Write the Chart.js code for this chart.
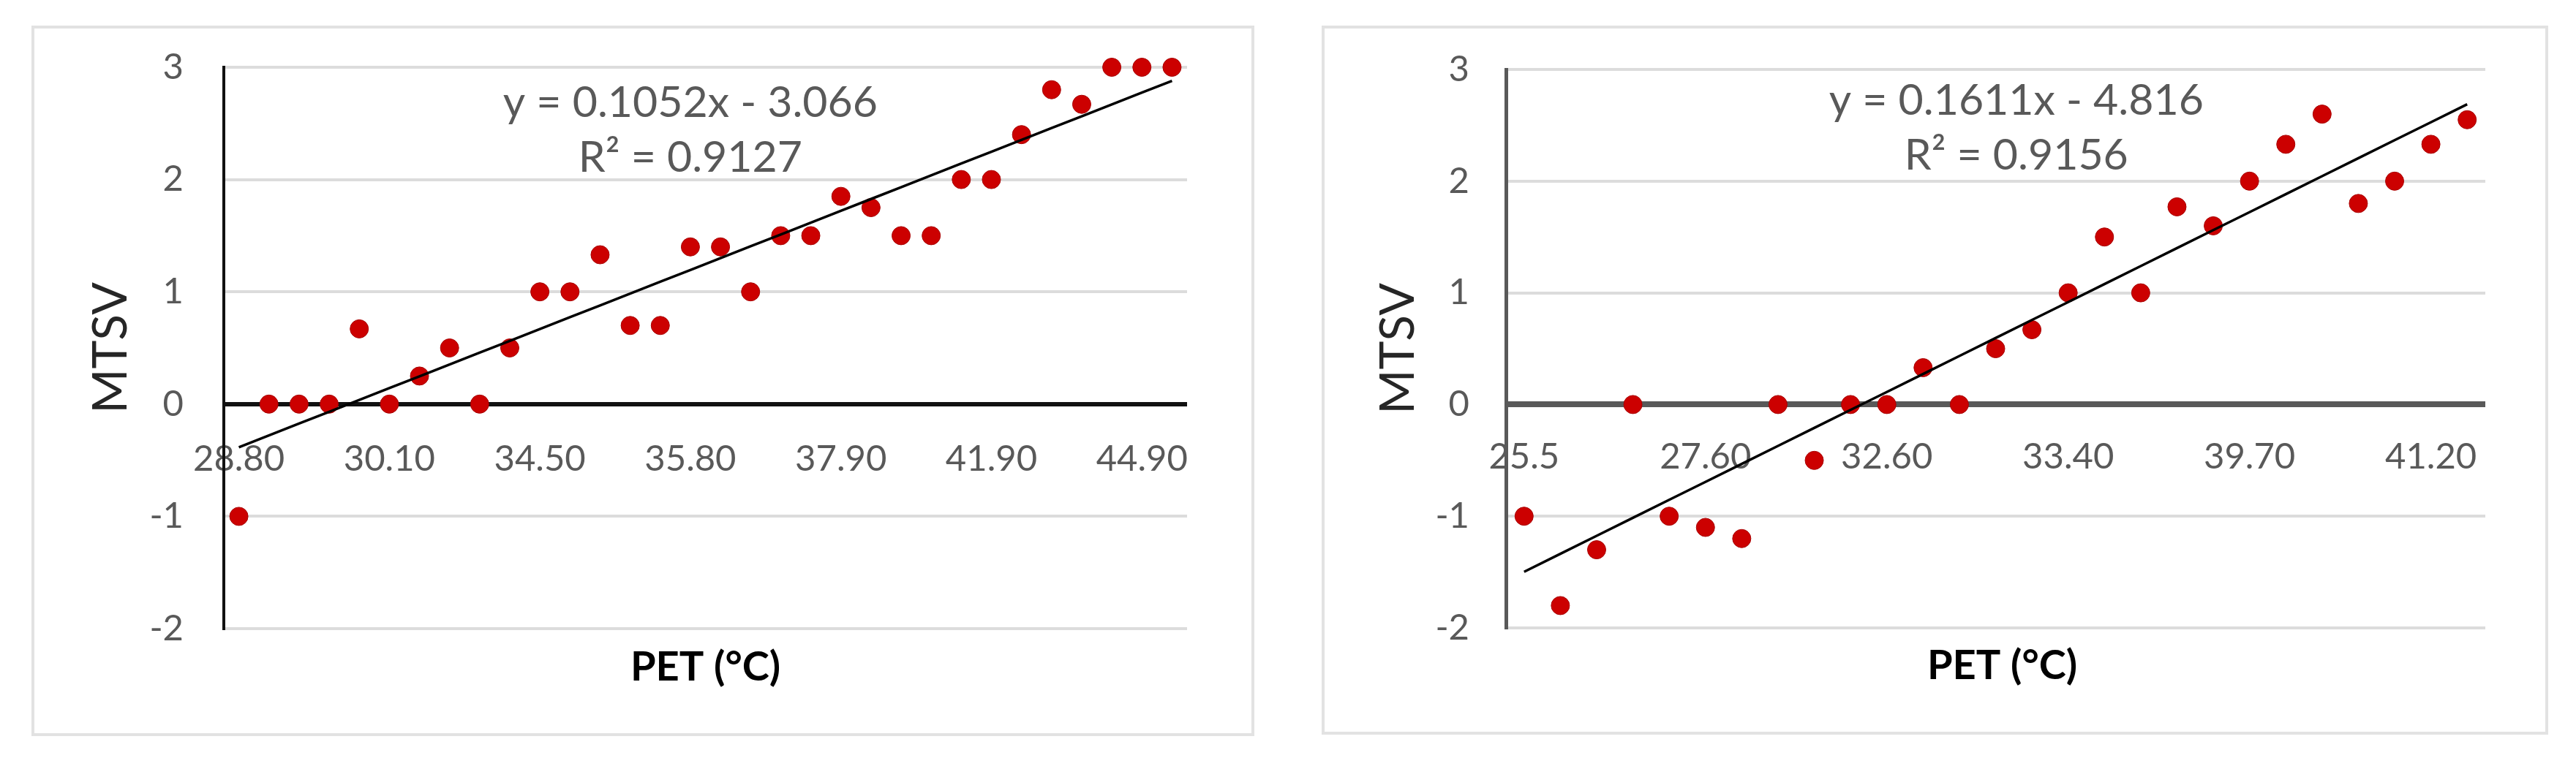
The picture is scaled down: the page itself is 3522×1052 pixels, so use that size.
<!DOCTYPE html>
<html><head><meta charset="utf-8">
<script src="https://cdn.jsdelivr.net/npm/chart.js@4.4.1/dist/chart.umd.min.js"></script>
<style>
html,body{margin:0;padding:0;background:#fff;}
body{width:3522px;height:1052px;position:relative;overflow:hidden;}
.panel{position:absolute;border:4px solid #e2e2e2;box-sizing:border-box;background:#fff;}
canvas{position:absolute;}
</style></head><body>
<div class="panel" style="left:43px;top:35px;width:1672px;height:972px"></div>
<div class="panel" style="left:1807px;top:35px;width:1677px;height:970px"></div>
<canvas id="c1" width="1664" height="964" style="left:47px;top:39px;width:1664px;height:964px"></canvas>
<canvas id="c2" width="1669" height="962" style="left:1811px;top:39px;width:1669px;height:962px"></canvas>
<script>
// ---------- data ----------
const leftTickLabels = ['28.80', '30.10', '34.50', '35.80', '37.90', '41.90', '44.90'];
const leftMTSV = [-1, 0, 0, 0, 0.67, 0, 0.25, 0.5, 0, 0.5, 1, 1, 1.33, 0.7, 0.7, 1.4,
                  1.4, 1, 1.5, 1.5, 1.85, 1.75, 1.5, 1.5, 2, 2, 2.4, 2.8, 2.67, 3, 3, 3];
const leftEquation = 'y = 0.1052x - 3.066';
const leftR2 = 'R² = 0.9127';

const rightTickLabels = ['25.5', '27.60', '32.60', '33.40', '39.70', '41.20'];
const rightMTSV = [-1, -1.8, -1.3, 0, -1, -1.1, -1.2, 0, -0.5, 0, 0, 0.33, 0, 0.5,
                   0.67, 1, 1.5, 1, 1.77, 1.6, 2, 2.33, 2.6, 1.8, 2, 2.33, 2.55];
const rightEquation = 'y = 0.1611x - 4.816';
const rightR2 = 'R² = 0.9156';

const labelEvery = 5;
const yMin = -2, yMax = 3, yStep = 1;
const xTitle = 'PET (°C)';
const yTitle = 'MTSV';

// ---------- helpers ----------
function buildLabels(n, tickLabels) {
  const out = [];
  for (let i = 0; i < n; i++) {
    out.push(i % labelEvery === 0 && tickLabels[i / labelEvery] !== undefined ? tickLabels[i / labelEvery] : '');
  }
  return out;
}
// Excel-style linear trendline over the category index (1..n)
function linearTrend(values) {
  const n = values.length;
  let sx = 0, sy = 0, sxx = 0, sxy = 0;
  values.forEach((v, i) => { const x = i + 1; sx += x; sy += v; sxx += x * x; sxy += x * v; });
  const slope = (n * sxy - sx * sy) / (n * sxx - sx * sx);
  const icpt = (sy - slope * sx) / n;
  return values.map((_, i) => slope * (i + 1) + icpt);
}

const textPlugin = {
  id: 'annot',
  afterDatasetsDraw(chart, args, o) {
    const ctx = chart.ctx, xs = chart.scales.x, ys = chart.scales.y, ca = chart.chartArea;
    ctx.save();
    ctx.fillStyle = '#595959';
    ctx.font = '59px Lato';
    ctx.textAlign = 'center';
    ctx.textBaseline = 'middle';
    const ex = xs.getPixelForValue(o.eqIndex);
    ctx.fillText(o.eq, ex, ys.getPixelForValue(o.eqY));
    ctx.fillText(o.r2, ex, ys.getPixelForValue(o.r2Y));
    ctx.fillStyle = '#000';
    ctx.font = 'bold 56px Lato';
    ctx.fillText(xTitle, (ca.left + ca.right) / 2 + o.titleShift, ca.bottom + o.titleGap);
    ctx.restore();
  }
};

function makeChart(id, values, tickLabels, eq, r2, opt) {
  const labels = buildLabels(values.length, tickLabels);
  const trend = linearTrend(values);
  return new Chart(document.getElementById(id), {
    type: 'line',
    data: {
      labels: labels,
      datasets: [
        { data: trend, borderColor: '#000', borderWidth: 3.5, pointRadius: 0, fill: false,
          tension: 0, order: 0, clip: false },
        { data: values, showLine: false, pointRadius: 12.5, pointHoverRadius: 12.5,
          pointBackgroundColor: '#cc0000', pointBorderColor: '#a80000', pointBorderWidth: 1,
          order: 1, clip: false }
      ]
    },
    options: {
      responsive: false, animation: false, devicePixelRatio: 1,
      layout: { padding: { left: 0, top: opt.top, right: opt.right, bottom: opt.bottom } },
      plugins: {
        legend: { display: false }, tooltip: { enabled: false }, title: { display: false },
        annot: { eq: eq, r2: r2, eqIndex: opt.eqIndex, eqY: opt.eqY, r2Y: opt.r2Y,
                 titleGap: opt.titleGap, titleShift: opt.titleShift }
      },
      scales: {
        x: {
          type: 'category', offset: true, position: { y: 0 },
          grid: { display: false, drawTicks: false },
          border: { display: false },
          ticks: { autoSkip: false, maxRotation: 0, minRotation: 0, padding: opt.xPad,
                   color: '#595959', font: { family: 'Lato', size: 49 } },
          afterFit: s => { s.height = 0; s.paddingLeft = 0; s.paddingRight = 0; }
        },
        y: {
          min: yMin, max: yMax, position: 'left',
          ticks: { stepSize: yStep, padding: opt.yPad, color: '#595959',
                   font: { family: 'Lato', size: 49 } },
          grid: {
            drawTicks: false,
            color: c => (c.tick && c.tick.value === 0) ? opt.zeroColor : '#dcdcdc',
            lineWidth: c => (c.tick && c.tick.value === 0) ? opt.zeroWidth : 4
          },
          border: { display: true, color: opt.axisColor, width: opt.axisWidth },
          title: { display: true, text: yTitle, color: '#262626',
                   font: { family: 'Lato', size: 66 }, padding: { top: opt.titlePad, bottom: 0 } },
          afterFit: s => { s.width = opt.axisBox; s.paddingTop = 0; s.paddingBottom = 0; }
        }
      }
    },
    plugins: [textPlugin]
  });
}

function drawAll() {
  Chart.defaults.font.family = 'Lato';
  makeChart('c1', leftMTSV, leftTickLabels, leftEquation, leftR2, {
    top: 53, right: 88, bottom: 143, axisBox: 259,
    xPad: 46, yPad: 55, titlePad: 65,
    zeroColor: '#111', zeroWidth: 6, axisColor: '#111', axisWidth: 4,
    eqIndex: 15, eqY: 2.68, r2Y: 2.19, titleGap: 53, titleShift: 0
  });
  makeChart('c2', rightMTSV, rightTickLabels, rightEquation, rightR2, {
    top: 56, right: 82, bottom: 142, axisBox: 248,
    xPad: 42, yPad: 50, titlePad: 61,
    zeroColor: '#595959', zeroWidth: 8, axisColor: '#595959', axisWidth: 5,
    eqIndex: 13.57, eqY: 2.72, r2Y: 2.23, titleGap: 52, titleShift: 9
  });
}

Promise.all(['49px Lato', 'bold 56px Lato', '66px Lato', '59px Lato'].map(f => document.fonts.load(f)))
  .catch(() => {}).then(drawAll);
</script>
</body></html>
